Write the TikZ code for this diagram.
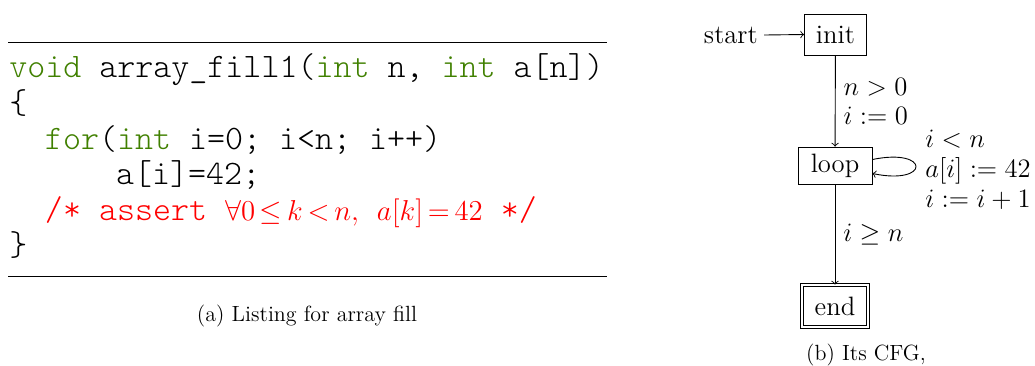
\RequirePackage{fix-cm}
\documentclass[tikz,border=0pt]{standalone}
\usepackage{fontspec}
\setmonofont{Latin Modern Mono Light}
\usetikzlibrary{calc}
\definecolor{kwgreen}{RGB}{64,128,0}
\definecolor{cmtred}{RGB}{255,0,0}
\newcommand{\kw}[1]{\textcolor{kwgreen}{#1}}
\newcommand{\codefont}{\fontsize{17.15}{18}\selectfont\ttfamily}
\newcommand{\cmathfont}{\fontsize{14.4}{14.4}\selectfont\thickmuskip=3mu plus 1mu\medmuskip=2mu}
\begin{document}
\begin{tikzpicture}[x=0.5pt,y=-0.5pt,
  codeline/.style={anchor=base west,inner sep=0pt,font=\codefont},
  state/.style={draw,rectangle,inner sep=0pt,font=\fontsize{13.3}{15}\selectfont},
  elabel/.style={inner sep=0pt,align=left,font=\fontsize{13.3}{14.5}\selectfont},
  caption/.style={inner sep=0pt,font=\fontsize{11}{14}\selectfont},
  edge/.style={->,line width=0.45pt}]
\useasboundingbox (0,0) rectangle (1035,365);
% ---- listing
\coordinate (r1a) at (8,42.5);
\coordinate (r1b) at (607,42.5);
\coordinate (r2a) at (8,276.5);
\coordinate (r2b) at (607,276.5);
\draw[line width=0.6pt] (r1a) -- (r1b);
\draw[line width=0.6pt] (r2a) -- (r2b);
\node[codeline] (l1) at (9,77) {\kw{void} array\_fill1(\kw{int} n, \kw{int} a[n])};
\node[codeline] (l2) at (9,113) {\{};
\node[codeline] (l3) at (44.6,149) {\kw{for}(\kw{int} i=0; i<n; i++)};
\node[codeline] (l4) at (115.8,184.5) {a[i]=42;};
\node[codeline,text=cmtred] (l5) at (44.6,220) {/*\ assert\ {\cmathfont$\forall 0\leq k<n,$}\ {\cmathfont$a[k]=42$}\ */};
\node[codeline] (l6) at (9,255) {\}};
\node[caption] (capa) at (307,316) {(a) Listing for array fill};
% ---- CFG
\node[state,minimum width=31pt,minimum height=20.5pt] (init) at (835.5,34.5) {init};
\node[state,minimum width=37pt,minimum height=18.5pt] (loop) at (835,165.5) {loop};
\node[state,double,double distance=1.2pt,minimum width=33pt,minimum height=21pt] (end) at (835,306) {end};
\node[anchor=base east,inner sep=0pt,font=\fontsize{13.3}{15}\selectfont] (start) at ($(init.base west)+(-46,0)$) {start};
\draw[edge] ([xshift=3pt]start.east) -- (init.west);
\draw[edge] (init) -- (loop) node[elabel,pos=0.5,anchor=west,xshift=4pt] (lab1) {$n>0$\\$i:=0$};
\draw[edge] (loop) -- (end) node[elabel,pos=0.5,anchor=west,xshift=4pt] (lab3) {$i\geq n$};
\draw[edge] ([yshift=3pt]loop.east) .. controls +(29pt,6pt) and +(29pt,-6pt) .. ([yshift=-4pt]loop.east);
\node[elabel,anchor=west,font=\fontsize{13.3}{15}\selectfont] (lab2) at (925,170) {$i<n$\\$a[i]:=42$\\$i:=i+1$};
\node[caption] (capb) at (866,355) {(b) Its CFG,};
\end{tikzpicture}
\end{document}
